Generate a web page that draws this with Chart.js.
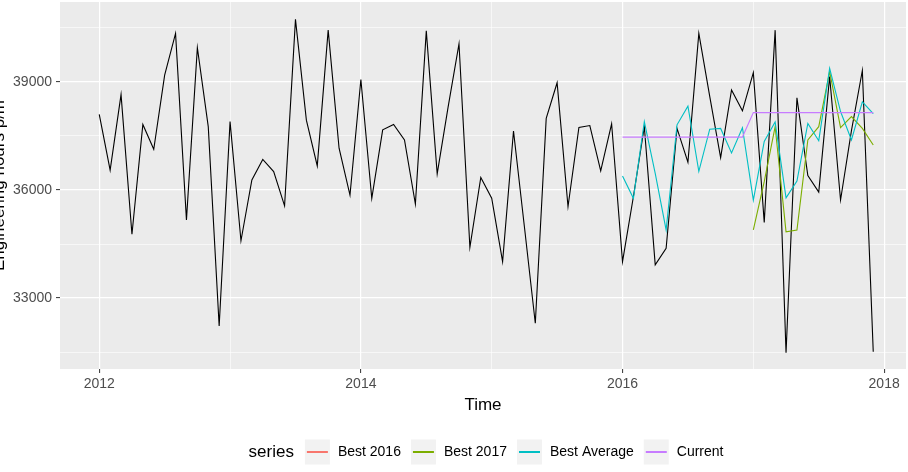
<!DOCTYPE html>
<html>
<head>
<meta charset="utf-8">
<script src="https://cdn.jsdelivr.net/npm/chart.js@4"></script>
<style>
  html, body { margin: 0; padding: 0; background: #fff; }
  #wrap { width: 908px; height: 472px; }
</style>
</head>
<body>
<div id="wrap"><canvas id="chart" width="908" height="472"></canvas></div>
<script>
/* ── data ──────────────────────────────────────────── */

// monthly series, Jan 2012 .. Dec 2017
const startYear = 2012;
const hours = [
  38100, 36550, 38650, 34770, 37820, 37130, 39190, 40350, 35170, 39950, 37760, 32220,
  37900, 34590, 36280, 36850, 36510, 35560, 40740, 37940, 36670, 40440, 37160, 35860,
  39070, 35770, 37670, 37820, 37390, 35610, 40420, 36450, 38300, 40060, 34410, 36350,
  35770, 34010, 37640, 34980, 32300, 37990, 38980, 35540, 37740, 37790, 36530, 37840,
  34010, 35820, 37760, 33920, 34380, 37710, 36770, 40350, 38600, 36900, 38780, 38200,
  39260, 35100, 40440, 31480, 38560, 36400, 35940, 39150, 35720, 37650, 39320, 31510
];

// overlays (index of first month in `hours`)
const best2016Start = 48;
const best2016 = [];
const best2017Start = 60;
const best2017 = [34890, 36230, 37760, 34840, 34890, 37390, 37760, 39290, 37730, 38040, 37710, 37250];
const bestAvgStart = 48;
const bestAverage = [
  36390, 35770, 37900, 36460, 34890, 37810, 38330, 36520, 37690, 37710, 37030, 37730,
  35720, 37350, 37890, 35780, 36250, 37850, 37370, 39380, 38180, 37390, 38450, 38120
];
const currentStart = 48;
const current = [
  37470, 37470, 37470, 37470, 37470, 37470, 37470, 37470, 37470, 37470, 37470, 37470,
  38150, 38150, 38150, 38150, 38150, 38150, 38150, 38150, 38150, 38150, 38150, 38150
];

const seriesNames  = ['Best 2016', 'Best 2017', 'Best Average', 'Current'];
const seriesColors = ['#F8766D', '#7CAE00', '#00BFC4', '#C77CFF'];

const xMajorTicks = [2012, 2014, 2016, 2018];
const xMinorTicks = [2013, 2015, 2017];
const yMajorTicks = [33000, 36000, 39000];
const yMinorTicks = [31500, 34500, 37500, 40500];

/* ── helpers ───────────────────────────────────────── */

const FONT = '"Liberation Sans", Arial, sans-serif';

function toPoints(vals, offset) {
  return vals.map((v, i) => ({ x: startYear + (offset + i) / 12, y: v }));
}

function isMajor(list, v) {
  return list.some(t => Math.abs(t - v) < 1e-6);
}

/* ── plugins ───────────────────────────────────────── */

const panelBg = {
  id: 'panelBg',
  beforeDraw(ch) {
    const { ctx, chartArea: a } = ch;
    ctx.save();
    ctx.fillStyle = '#EBEBEB';
    ctx.fillRect(a.left, a.top, a.right - a.left, a.bottom - a.top);
    ctx.restore();
  }
};

const decorations = {
  id: 'decorations',
  afterDraw(ch) {
    const { ctx, chartArea: a } = ch;
    ctx.save();
    ctx.fillStyle = '#000';

    // axis titles
    ctx.font = '17px ' + FONT;
    ctx.textAlign = 'center';
    ctx.textBaseline = 'middle';
    ctx.fillText('Time', (a.left + a.right) / 2, 405);

    ctx.save();
    ctx.translate(4, (a.top + a.bottom) / 2);
    ctx.rotate(-Math.PI / 2);
    ctx.textBaseline = 'alphabetic';
    ctx.fillText('Engineering hours p/m', 0, 0);
    ctx.restore();

    // legend
    const cy = 452, key = 25;
    ctx.textAlign = 'left';
    ctx.textBaseline = 'middle';
    ctx.font = '17px ' + FONT;
    const titleW = ctx.measureText('series').width;
    ctx.font = '14px ' + FONT;
    const labW = seriesNames.map(n => ctx.measureText(n).width);
    const total = titleW + 11 + labW.reduce((s, w) => s + key + 8 + w, 0) + 10 * (seriesNames.length - 1);
    let x = 486 - total / 2;

    ctx.font = '17px ' + FONT;
    ctx.fillText('series', x, cy);
    x += titleW + 11;

    ctx.font = '14px ' + FONT;
    seriesNames.forEach((n, i) => {
      ctx.fillStyle = '#F2F2F2';
      ctx.fillRect(x, cy - key / 2, key, key);
      ctx.strokeStyle = seriesColors[i];
      ctx.lineWidth = 2;
      ctx.beginPath();
      ctx.moveTo(x + 2, cy);
      ctx.lineTo(x + key - 2, cy);
      ctx.stroke();
      ctx.fillStyle = '#000';
      ctx.fillText(n, x + key + 8, cy);
      x += key + 8 + labW[i] + 10;
    });
    ctx.restore();
  }
};

/* ── chart ─────────────────────────────────────────── */

const overlays = [
  [best2016, best2016Start],
  [best2017, best2017Start],
  [bestAverage, bestAvgStart],
  [current, currentStart]
];

const datasets = overlays.map(([vals, off], i) => ({
  label: seriesNames[i],
  data: toPoints(vals, off),
  borderColor: seriesColors[i],
  borderWidth: 1.1,
  pointRadius: 0,
  tension: 0,
  order: 4 - i
}));

datasets.push({
  label: 'hours',
  data: toPoints(hours, 0),
  borderColor: '#000',
  borderWidth: 1.1,
  pointRadius: 0,
  tension: 0,
  order: 10
});

const allXTicks = xMajorTicks.concat(xMinorTicks).sort((a, b) => a - b);
const allYTicks = yMajorTicks.concat(yMinorTicks).sort((a, b) => a - b);

new Chart(document.getElementById('chart'), {
  type: 'line',
  data: { datasets },
  options: {
    responsive: false,
    animation: false,
    events: [],
    layout: { padding: { top: 2, right: 2, left: 0, bottom: 0 } },
    plugins: { legend: { display: false }, tooltip: { enabled: false } },
    scales: {
      x: {
        type: 'linear',
        min: 2011.7,
        max: 2018.167,
        afterBuildTicks: s => { s.ticks = allXTicks.map(v => ({ value: v })); },
        afterFit: s => { s.height = 103; s.paddingLeft = 0; s.paddingRight = 0; },
        border: { display: false },
        grid: {
          color: '#FFFFFF',
          lineWidth: c => isMajor(xMajorTicks, c.tick.value) ? 1.2 : 0.6,
          tickColor: c => isMajor(xMajorTicks, c.tick.value) ? '#333333' : 'rgba(0,0,0,0)',
          tickWidth: 1,
          tickLength: 4
        },
        ticks: {
          autoSkip: false,
          maxRotation: 0,
          padding: 3,
          color: '#4D4D4D',
          font: { family: FONT, size: 14 },
          callback: v => isMajor(xMajorTicks, v) ? String(v) : ''
        }
      },
      y: {
        min: 31028,
        max: 41222,
        afterBuildTicks: s => { s.ticks = allYTicks.map(v => ({ value: v })); },
        afterFit: s => { s.width = 60; s.paddingTop = 0; s.paddingBottom = 0; },
        border: { display: false },
        grid: {
          color: '#FFFFFF',
          lineWidth: c => isMajor(yMajorTicks, c.tick.value) ? 1.2 : 0.6,
          tickColor: c => isMajor(yMajorTicks, c.tick.value) ? '#333333' : 'rgba(0,0,0,0)',
          tickWidth: 1,
          tickLength: 4
        },
        ticks: {
          autoSkip: false,
          padding: 4,
          color: '#4D4D4D',
          font: { family: FONT, size: 14 },
          callback: v => isMajor(yMajorTicks, v) ? String(v) : ''
        }
      }
    }
  },
  plugins: [panelBg, decorations]
});
</script>
</body>
</html>
